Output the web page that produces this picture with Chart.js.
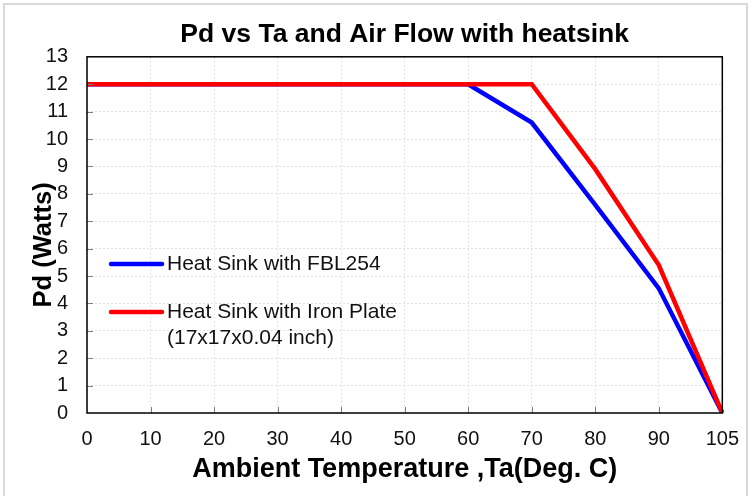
<!DOCTYPE html>
<html>
<head>
<meta charset="utf-8">
<script src="https://cdn.jsdelivr.net/npm/chart.js@4"></script>
<style>
  html, body { margin: 0; padding: 0; background: #fff; }
  #frame { position: absolute; left: 3px; top: 3px; width: 745px; height: 500px; border: 2px solid #d9d9d9; box-sizing: border-box; }
  #wrap { position: absolute; left: 0; top: 0; width: 753px; height: 496px; }
</style>
</head>
<body>
<div id="frame"></div>
<div id="wrap"><canvas id="myChart" width="753" height="496"></canvas></div>
<script>
// x categories (Ta, deg C)
const tempLabels = ['0', '10', '20', '30', '40', '50', '60', '70', '80', '90', '105'];
// Pd in watts
const fbl254 = [12, 12, 12, 12, 12, 12, 12, 10.6, 7.6, 4.55, 0];
const ironPlate = [12, 12, 12, 12, 12, 12, 12, 12, 8.9, 5.4, 0];
const legendNames = [['Heat Sink with FBL254'], ['Heat Sink with Iron Plate', '(17x17x0.04 inch)']];
const yTitle = 'Pd (Watts)';

const FONT = 'Arial, "Liberation Sans", sans-serif';

// box round plot area, inner tick marks, y title and the legend inside the plot
const framePlugin = {
  id: 'frame',
  afterDraw(chart) {
    const ctx = chart.ctx;
    const a = chart.chartArea;
    const xs = chart.scales.x, ys = chart.scales.y;
    ctx.save();
    ctx.strokeStyle = '#7f7f7f';
    ctx.lineWidth = 1;
    for (let v = 1; v < 13; v++) {
      const y = Math.round(ys.getPixelForValue(v)) + 0.5;
      ctx.beginPath(); ctx.moveTo(a.left, y); ctx.lineTo(a.left + 6, y); ctx.stroke();
    }
    for (let i = 1; i < tempLabels.length - 1; i++) {
      const x = Math.round(xs.getPixelForValue(i)) + 0.5;
      ctx.beginPath(); ctx.moveTo(x, a.bottom); ctx.lineTo(x, a.bottom - 6); ctx.stroke();
    }
    ctx.strokeStyle = '#000';
    ctx.lineWidth = 1.5;
    ctx.strokeRect(a.left, a.top, a.right - a.left, a.bottom - a.top);

    // y axis title, a bit below the middle like the original
    ctx.save();
    ctx.translate(44, (a.top + a.bottom) / 2 + 10);
    ctx.rotate(-Math.PI / 2);
    ctx.font = 'bold 25.5px ' + FONT;
    ctx.fillStyle = '#000';
    ctx.textAlign = 'center';
    ctx.textBaseline = 'middle';
    ctx.fillText(yTitle, 0, 0);
    ctx.restore();

    // legend
    ctx.font = '21px ' + FONT;
    ctx.textBaseline = 'middle';
    ctx.fillStyle = '#111';
    let ly = 264;
    chart.data.datasets.slice().sort((p, q) => p.legendIndex - q.legendIndex).forEach(ds => {
      ctx.strokeStyle = ds.borderColor;
      ctx.lineWidth = 4.5;
      ctx.lineCap = 'round';
      ctx.beginPath(); ctx.moveTo(111, ly); ctx.lineTo(162, ly); ctx.stroke();
      ds.legendText.forEach((t, k) => ctx.fillText(t, 167, ly + k * 26));
      ly += 48;
    });
    ctx.restore();
  }
};

const data = {
  labels: tempLabels,
  datasets: [
    {
      label: legendNames[1].join(' '),
      legendText: legendNames[1],
      legendIndex: 1,
      data: ironPlate,
      borderColor: '#ff0000',
      borderWidth: 4.5,
      pointRadius: 0,
      order: 0
    },
    {
      label: legendNames[0].join(' '),
      legendText: legendNames[0],
      legendIndex: 0,
      data: fbl254,
      borderColor: '#0000ff',
      borderWidth: 4.5,
      pointRadius: 0,
      order: 1
    }
  ]
};

const config = {
  type: 'line',
  data: data,
  options: {
    responsive: false,
    animation: false,
    layout: { padding: { left: 24, right: 30, top: 0, bottom: 6 } },
    plugins: {
      legend: { display: false },
      tooltip: { enabled: false },
      title: {
        display: true,
        fullSize: false,
        text: 'Pd vs Ta and Air Flow with heatsink',
        color: '#000',
        font: { family: FONT, size: 26.5, weight: 'bold' },
        padding: { top: 19, bottom: 6 }
      }
    },
    scales: {
      x: {
        type: 'category',
        offset: false,
        grid: { color: '#e3e3e3', drawTicks: false },
        border: { display: false, dash: [2, 2] },
        ticks: { color: '#111', font: { family: FONT, size: 20 }, padding: 14, maxRotation: 0, autoSkip: false },
        title: {
          display: true,
          text: 'Ambient Temperature ,Ta(Deg. C)',
          color: '#000',
          font: { family: FONT, size: 27, weight: 'bold' },
          padding: { top: 4, bottom: 4 }
        },
        afterFit(scale) { scale.height = 83 - 6; }
      },
      y: {
        min: 0,
        max: 13,
        grid: { color: '#e3e3e3', drawTicks: false },
        border: { display: false, dash: [2, 2] },
        ticks: { stepSize: 1, color: '#111', font: { family: FONT, size: 20 }, padding: 19 },
        afterFit(scale) { scale.width = 87 - 24; }
      }
    }
  },
  plugins: [framePlugin]
};

const myChart = new Chart(document.getElementById('myChart'), config);
</script>
</body>
</html>
